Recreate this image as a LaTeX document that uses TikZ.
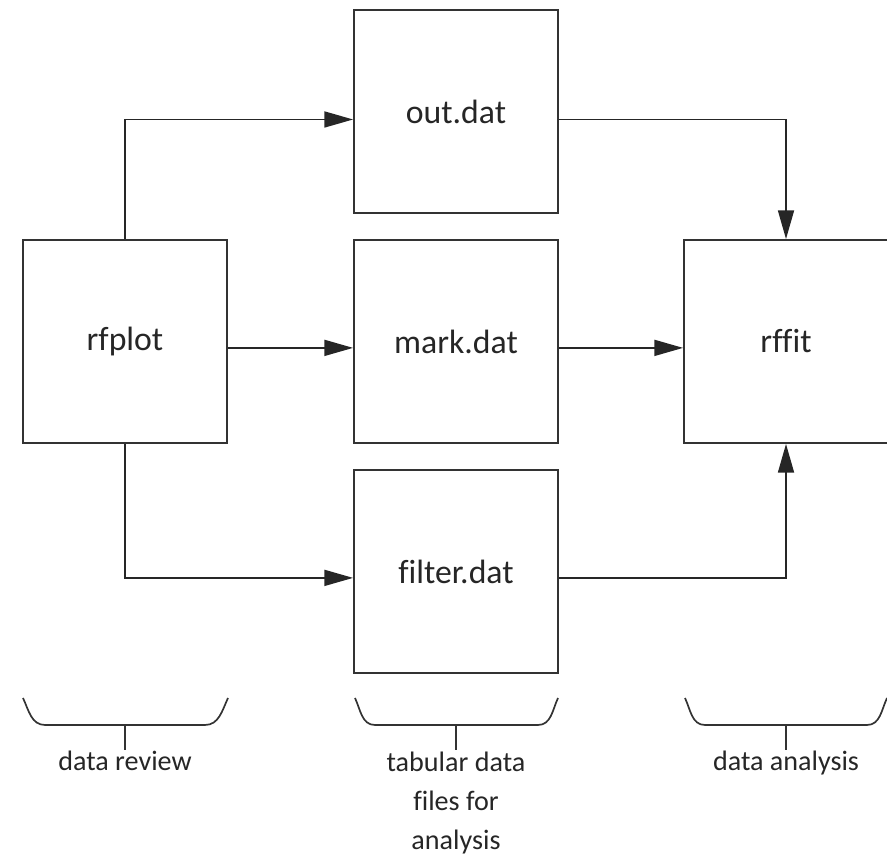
\documentclass[tikz,border=0pt]{standalone}
\usepackage{fontspec}
\setmainfont{Carlito}[Ligatures=CommonOff]
\usepackage{tikz}
\usetikzlibrary{arrows.meta,positioning}

\begin{document}
\begin{tikzpicture}[
    box/.style = {rectangle, draw = black!80, line width=1.3pt,
        text = black!85, minimum width = 5.1cm, minimum height = 5.075cm,
        font = \fontsize{24}{28}\selectfont},
    arr/.style = {draw = black!85, line width=1.3pt,
        -{Triangle[length=0.72cm,width=0.4cm]}},
    grp/.style = {draw = black!80, line width=1.2pt},
    lbl/.style = {text = black!85, align = center,
        font = \fontsize{20}{27.5}\selectfont}]
\useasboundingbox (0,0) rectangle (22.175,21.4);

\node[box] (rfplot) at (3.125,12.8625) {rfplot};
\node[box] (out) at (11.4,18.6125) {out.dat};
\node[box] (mark) at (11.4,12.8625) {mark.dat};
\node[box] (filter) at (11.4,7.1125) {filter.dat};
\node[box] (rffit) at (19.65,12.8625) {rffit};

\draw[arr] (rfplot.north) |- ([yshift=-2mm]out.west);
\draw[arr] ([yshift=-1.6mm]rfplot.east) -- ([yshift=-1.6mm]mark.west);
\draw[arr] (rfplot.south) |- ([yshift=-1.6mm]filter.west);

\draw[arr] ([yshift=-2mm]out.east) -| (rffit.north);
\draw[arr] ([yshift=-1.6mm]mark.east) -- ([yshift=-1.6mm]rffit.west);
\draw[arr] ([yshift=-1.6mm]filter.east) -| (rffit.south);

% groups
\draw[grp] (0.575,3.95) to[out=-65,in=180] (1.125,3.275) -- (5.125,3.275)
    to[out=0,in=-115] (5.7,3.95);
\coordinate (g1) at (3.125,3.275);
\draw[grp] (g1) -- ++(0,-0.625) node[lbl,below=-1.2mm] (review) {data review};

\draw[grp] (8.875,3.95) to[out=-65,in=180] (9.375,3.275) -- (13.45,3.275)
    to[out=0,in=-115] (13.95,3.95);
\coordinate (g2) at (11.4,3.275);
\draw[grp] (g2) -- ++(0,-0.625) node[lbl,below=-0.8mm] (tabular)
    {tabular data\\files for\\analysis};

\draw[grp] (17.125,3.95) to[out=-65,in=180] (17.625,3.275) -- (21.675,3.275)
    to[out=0,in=-115] (22.175,3.95);
\coordinate (g3) at (19.65,3.275);
\draw[grp] (g3) -- ++(0,-0.625) node[lbl,below=-1.2mm] (analysis) {data analysis};

\end{tikzpicture}
\end{document}
